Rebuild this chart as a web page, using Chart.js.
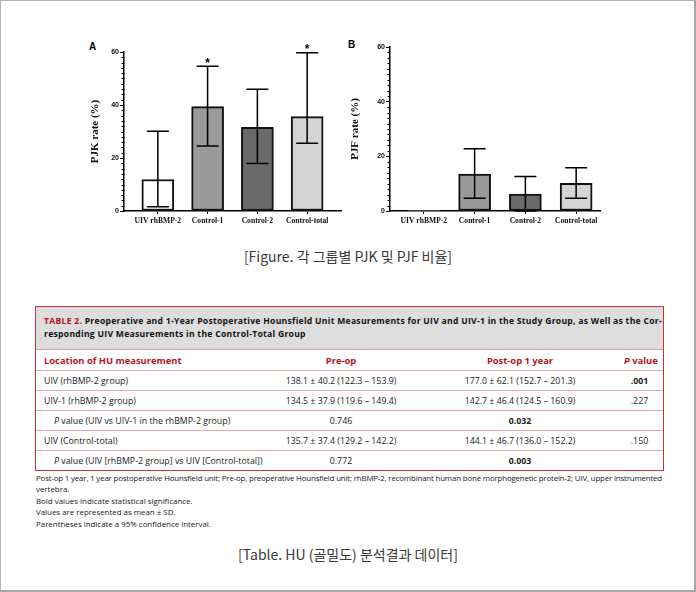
<!DOCTYPE html>
<html>
<head>
<meta charset="utf-8">
<script src="https://cdn.jsdelivr.net/npm/chart.js@4"></script>
<style>
  html, body { margin: 0; padding: 0; background: #fff; }
  #page {
    position: relative; width: 696px; height: 592px; box-sizing: border-box;
    border-left: 1px solid #b4b4b4; border-top: 1px solid #b4b4b4;
    border-right: 2px solid #a8a8a8; border-bottom: 2px solid #a8a8a8;
    overflow: hidden; font-family: "Open Sans", sans-serif; color: #222;
  }
  .abs { position: absolute; }
  .panel { font: bold 10px "Liberation Sans", Arial, sans-serif; color: #000; }
  .caption { font: 14px "Noto Sans CJK KR", sans-serif; color: #3a3a3a; width: 696px; text-align: center; left: -1px; }
  #tbl { left: 34px; top: 305px; width: 627px; border: 1.5px solid #c8323a; }
  #tbl .title { background: #dddddd; padding: 8px 0 0 8px; height: 34px; box-sizing: content-box;
    font-weight: bold; font-size: 8.6px; line-height: 13px; color: #111; white-space: nowrap; border-bottom: 1px solid #e0a0a4; }
  #tbl .title .red { color: #b3141f; }
  .row { display: grid; grid-template-columns: 230px 150px 208px 31px; font-size: 8.8px; white-space: nowrap;
    align-items: center; border-bottom: 1px solid #e7a6a9; height: 19px; }
  .row:last-child { border-bottom: none; }
  .row > div { text-align: center; }
  .row > div:first-child { text-align: left; padding-left: 8px; }
  .row.head { height: 20px; color: #b3141f; font-weight: bold; font-size: 9.4px; }
  .row .ind { padding-left: 18px !important; }
  .notes { left: 35px; top: 472px; font-size: 7.9px; line-height: 11.4px; white-space: nowrap; color: #1a1a1a; }
</style>
</head>
<body>
<div id="page">
  <div class="abs panel" style="left:88px; top:40px;">A</div>
  <div class="abs panel" style="left:347px; top:38px;">B</div>
  <canvas id="chartA" class="abs" width="265" height="200" style="left:79px; top:29px;"></canvas>
  <canvas id="chartB" class="abs" width="270" height="200" style="left:339px; top:29px;"></canvas>
  <div class="abs caption" style="top:245px;">[Figure. 각 그룹별 PJK 및 PJF 비율]</div>

  <div id="tbl" class="abs">
    <div class="title"><span class="fit1"><span class="red">TABLE 2.</span> Preoperative and 1-Year Postoperative Hounsfield Unit Measurements for UIV and UIV-1 in the Study Group, as Well as the Cor-</span><br><span class="fit1b">responding UIV Measurements in the Control-Total Group</span></div>
    <div class="row head"><div>Location of HU measurement</div><div>Pre-op</div><div>Post-op 1 year</div><div><i>P</i> value</div></div>
    <div class="row"><div>UIV (rhBMP-2 group)</div><div>138.1 ± 40.2 (122.3 – 153.9)</div><div>177.0 ± 62.1 (152.7 – 201.3)</div><div><b>.001</b></div></div>
    <div class="row"><div>UIV-1 (rhBMP-2 group)</div><div>134.5 ± 37.9 (119.6 – 149.4)</div><div>142.7 ± 46.4 (124.5 – 160.9)</div><div>.227</div></div>
    <div class="row"><div class="ind"><i>P</i> value (UIV vs UIV-1 in the rhBMP-2 group)</div><div>0.746</div><div><b>0.032</b></div><div></div></div>
    <div class="row"><div>UIV (Control-total)</div><div>135.7 ± 37.4 (129.2 – 142.2)</div><div>144.1 ± 46.7 (136.0 – 152.2)</div><div>.150</div></div>
    <div class="row"><div class="ind"><i>P</i> value (UIV [rhBMP-2 group] vs UIV [Control-total])</div><div>0.772</div><div><b>0.003</b></div><div></div></div>
  </div>

  <div class="abs notes"><span class="fit2">Post-op 1 year, 1 year postoperative Hounsfield unit; Pre-op, preoperative Hounsfield unit; rhBMP-2, recombinant human bone morphogenetic protein-2; UIV, upper instrumented</span><br>vertebra.<br>Bold values indicate statistical significance.<br>Values are represented as mean ± SD.<br>Parentheses indicate a 95% confidence interval.</div>

  <div class="abs caption" style="top:543px;">[Table. HU (골밀도) 분석결과 데이터]</div>
</div>

<script>
const categories = ["UIV rhBMP-2", "Control-1", "Control-2", "Control-total"];
const barColors = ["#ffffff", "#9a9a9a", "#6a6a6a", "#d4d4d4"];
const yTicks = [0, 20, 40, 60];

// panel A - PJK rate
const pjkRate = [11.9, 39.4, 31.6, 35.6];
const pjkLow = [1.6, 24.5, 17.9, 25.6];
const pjkHigh = [30.1, 54.6, 45.9, 59.7];
const pjkStars = ["", "*", "", "*"];

// panel B - PJF rate
const pjfRate = [0, 13.5, 6.2, 10.1];
const pjfLow = [0, 4.7, 0, 4.7];
const pjfHigh = [0, 22.8, 12.6, 15.8];
const pjfStars = ["", "", "", ""];

const errorBars = {
    id: "errorBars",
    afterDatasetsDraw(chart, args, opts) {
        const ctx = chart.ctx;
        const yScale = chart.scales.y;
        const meta = chart.getDatasetMeta(0);
        ctx.save();
        ctx.strokeStyle = "#000";
        ctx.lineWidth = 1.5;
        opts.high.forEach((hi, i) => {
            const lo = opts.low[i];
            const x = meta.data[i].x;
            if (hi !== lo) {
                const yHi = yScale.getPixelForValue(hi);
                const yLo = yScale.getPixelForValue(lo);
                ctx.beginPath();
                ctx.moveTo(x, yHi); ctx.lineTo(x, yLo);
                ctx.moveTo(x - 11, yHi); ctx.lineTo(x + 11, yHi);
                ctx.moveTo(x - 11, yLo); ctx.lineTo(x + 11, yLo);
                ctx.stroke();
            }
            if (opts.stars[i]) {
                ctx.fillStyle = "#000";
                ctx.font = "bold 12px 'Liberation Sans', Arial";
                ctx.textAlign = "center";
                ctx.textBaseline = "bottom";
                ctx.fillText(opts.stars[i], x, yScale.getPixelForValue(hi) + 3);
            }
        });
        ctx.restore();
    }
};

const minorTicks = {
    id: "minorTicks",
    afterDraw(chart) {
        const ctx = chart.ctx;
        const y = chart.scales.y;
        ctx.save();
        ctx.strokeStyle = "#000";
        ctx.lineWidth = 1;
        for (let v = 0; v <= y.max; v += 2) {
            if (v % 20 === 0) continue;
            const py = Math.round(y.getPixelForValue(v)) + 0.5;
            ctx.beginPath();
            ctx.moveTo(y.right - 2.5, py);
            ctx.lineTo(y.right, py);
            ctx.stroke();
        }
        ctx.restore();
    }
};

function makeChart(id, values, low, high, stars, title, setup) {
    const ctx = document.querySelector(id);
    const data = {
        datasets: [{
            data: values.map((v, i) => ({ x: i, y: v })),
            backgroundColor: barColors,
            borderColor: "#111",
            borderWidth: c => (c.raw && c.raw.y === 0 ? 0 : 2),
            borderSkipped: false,
            barThickness: 32
        }]
    };
    const options = {
        responsive: false,
        animation: false,
        layout: { padding: setup.padding },
        plugins: {
            legend: { display: false },
            tooltip: { enabled: false },
            errorBars: { low: low, high: high, stars: stars }
        },
        scales: {
            x: {
                type: "linear",
                offset: false,
                min: setup.xMin,
                max: setup.xMax,
                afterBuildTicks: s => { s.ticks = categories.map((c, i) => ({ value: i })); },
                afterFit: s => { s.height = setup.xHeight; s.paddingLeft = 0; s.paddingRight = 0; },
                grid: { display: true, offset: false, drawOnChartArea: false, drawTicks: true, tickLength: 3, color: "#000" },
                border: { display: true, color: "#000", width: 1.5 },
                ticks: {
                    padding: 2,
                    color: "#111",
                    font: { family: "'Liberation Serif', 'Times New Roman', serif", size: 7.6, weight: "bold" },
                    callback: v => categories[v]
                }
            },
            y: {
                min: 0,
                max: 60,
                afterBuildTicks: s => { s.ticks = yTicks.map(v => ({ value: v })); },
                afterFit: s => { s.width = setup.yWidth; s.paddingTop = 0; s.paddingBottom = 0; },
                grid: { display: true, drawOnChartArea: false, drawTicks: true, tickLength: 4, color: "#000" },
                border: { display: true, color: "#000", width: 1.5 },
                title: {
                    display: true,
                    text: title,
                    color: "#111",
                    padding: 0,
                    font: { family: "'Liberation Serif', 'Times New Roman', serif", size: 11, weight: "bold" }
                },
                ticks: {
                    padding: 1,
                    color: "#111",
                    font: { family: "'Liberation Sans', Arial, sans-serif", size: 7, weight: "bold" }
                }
            }
        }
    };
    return new Chart(ctx, { type: "bar", data: data, options: options, plugins: [errorBars, minorTicks] });
}

makeChart("#chartA", pjkRate, pjkLow, pjkHigh, pjkStars, "PJK rate (%)", {
    padding: { left: 9, top: 22, right: 4, bottom: 0 },
    xMin: -0.68, xMax: 3.68, xHeight: 19, yWidth: 35
});
makeChart("#chartB", pjfRate, pjfLow, pjfHigh, pjfStars, "PJF rate (%)", {
    padding: { left: 9, top: 17, right: 10, bottom: 0 },
    xMin: -0.667, xMax: 3.47, xHeight: 19, yWidth: 41
});

// stretch a few long lines to the widths they have in the picture
document.fonts.ready.then(() => {
    const fit = (el, target) => {
        el.style.display = "inline-block";
        const w = el.getBoundingClientRect().width;
        const sp = (target - w) / el.textContent.length;
        el.style.letterSpacing = sp + "px";
        return sp;
    };
    const sp = fit(document.querySelector(".fit1"), 618);
    document.querySelector(".fit1b").style.letterSpacing = sp + "px";
    fit(document.querySelector(".fit2"), 626);
});
</script>
</body>
</html>
